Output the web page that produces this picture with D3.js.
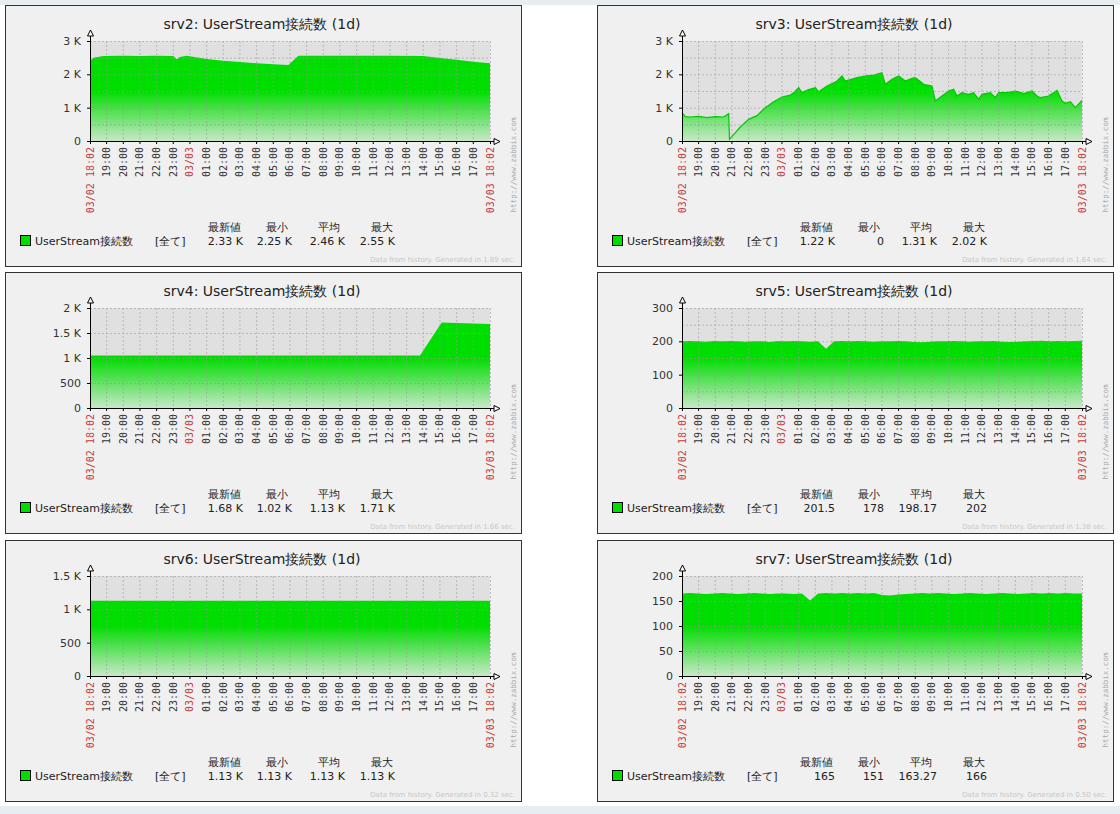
<!DOCTYPE html>
<html><head><meta charset="utf-8">
<script src="https://cdn.jsdelivr.net/npm/d3@7"></script>
<style>
body{margin:0;background:#fff;}
svg{display:block;}
</style></head><body>
<svg id="page" width="1120" height="814"></svg>
<script>
// hours since 03/02 18:02, values
const srv2T = [0,0.2,0.8,2,3,4,5,5.2,5.4,5.8,7,8,9,10,11,11.9,12.5,14,16,18,20,21,22,23,24];
const srv2V = [2400,2500,2550,2560,2550,2560,2550,2450,2520,2560,2460,2410,2370,2330,2300,2280,2560,2560,2560,2560,2550,2490,2440,2380,2330];

const srv3T = [0,0.2,0.5,1,1.5,2,2.5,2.8,2.85,3.5,4,4.5,5,5.5,6,6.5,6.7,7,7.2,7.6,8,8.2,8.7,9,9.3,9.6,9.8,10.5,11,11.5,12,12.2,12.6,13,13.4,13.8,14,14.5,15,15.2,15.6,16,16.3,16.5,16.8,17.2,17.5,17.8,18,18.5,18.8,19,19.5,20,20.5,21,21.3,21.5,22,22.5,22.8,23,23.3,23.6,24];
const srv3V = [850,730,720,740,700,730,720,820,50,420,650,760,1000,1180,1320,1380,1450,1600,1450,1540,1600,1480,1650,1720,1800,1950,1800,1900,1950,1980,2050,1700,1850,1950,1800,1880,1900,1700,1650,1200,1350,1500,1550,1350,1450,1400,1450,1250,1400,1450,1300,1450,1450,1500,1420,1500,1350,1300,1350,1520,1200,1130,1180,1000,1220];

const srv4T = [0,5,10,15,19.8,21.1,22,23,24];
const srv4V = [1050,1050,1050,1050,1050,1710,1700,1690,1680];

const srv5V = [200,201,200,199,201,200,201,200,199,200,200,198,201,200,201,200,199,200,178,200,201,200,201,200,199,200,200,201,200,198,197,199,200,200,201,200,199,200,200,201,199,198,199,200,201,202,200,201,200,201,201.5];
const srv6T = [0,24];
const srv6V = [1130,1130];
const srv7V = [165,166,165,164,165,166,165,164,165,166,165,164,165,165,164,165,151,165,166,165,166,165,166,165,166,162,161,163,164,165,166,165,166,165,164,165,166,165,164,165,166,165,164,165,166,165,166,165,166,165,165];

const hourLabels = ["19:00","20:00","21:00","22:00","23:00","03/03","01:00","02:00","03:00","04:00","05:00","06:00","07:00","08:00","09:00","10:00","11:00","12:00","13:00","14:00","15:00","16:00","17:00"];
const legendHeads = ["最新値","最小","平均","最大"];

const charts = [
  {name:"srv2",x:5,y:5,T:srv2T,V:srv2V,max:3000,ticks:[0,1000,2000,3000],grid:[500,1500,2500],stats:["2.33 K","2.25 K","2.46 K","2.55 K"],gen:"1.89",line:false},
  {name:"srv3",x:597,y:5,T:srv3T,V:srv3V,max:3000,ticks:[0,1000,2000,3000],grid:[500,1500,2500],stats:["1.22 K","0","1.31 K","2.02 K"],gen:"1.64",line:true},
  {name:"srv4",x:5,y:272,T:srv4T,V:srv4V,max:2000,ticks:[0,500,1000,1500,2000],grid:[],stats:["1.68 K","1.02 K","1.13 K","1.71 K"],gen:"1.66",line:false},
  {name:"srv5",x:597,y:272,T:srv5V.map((d,i)=>i*24/(srv5V.length-1)),V:srv5V,max:300,ticks:[0,100,200,300],grid:[50,150,250],stats:["201.5","178","198.17","202"],gen:"1.38",line:false},
  {name:"srv6",x:5,y:540,T:srv6T,V:srv6V,max:1500,ticks:[0,500,1000,1500],grid:[],stats:["1.13 K","1.13 K","1.13 K","1.13 K"],gen:"0.32",line:false},
  {name:"srv7",x:597,y:540,T:srv7V.map((d,i)=>i*24/(srv7V.length-1)),V:srv7V,max:200,ticks:[0,50,100,150,200],grid:[],stats:["165","151","163.27","166"],gen:"0.50",line:false}
];

const svg = d3.select("#page");
svg.append("rect").attr("width",1120).attr("height",5).attr("fill","#e8edf2");
svg.append("rect").attr("y",806).attr("width",1120).attr("height",8).attr("fill","#e8edf2");

const fmt = v => v === 0 ? "0" : (v >= 1000 ? (v/1000) + " K" : String(v));
const W = 400, H = 100, L = 85, TOP = 36;

const defs = svg.append("defs");
const gr = defs.append("linearGradient").attr("id","grad").attr("x1",0).attr("y1",0).attr("x2",0).attr("y2",1)
  .attr("gradientUnits","objectBoundingBox");

charts.forEach((c, ci) => {
  const g = svg.append("g").attr("transform", `translate(${c.x},${c.y})`);
  g.append("rect").attr("x",0.5).attr("y",0.5).attr("width",516).attr("height",261)
    .attr("fill","#f0f0f0").attr("stroke","#333");
  g.append("text").attr("x",257).attr("y",24).attr("text-anchor","middle")
    .attr("font-family","DejaVu Sans").attr("font-size",14).attr("fill","#222")
    .text(`${c.name}: UserStream接続数 (1d)`);

  const x = d3.scaleLinear().domain([0,24]).range([L, L+W]);
  const y = d3.scaleLinear().domain([0,c.max]).range([TOP+H, TOP]);

  g.append("rect").attr("x",L).attr("y",TOP).attr("width",W).attr("height",H).attr("fill","#e0e0e0");

  const gid = "grad" + ci;
  const lg = defs.append("linearGradient").attr("id",gid).attr("gradientUnits","userSpaceOnUse")
    .attr("x1",0).attr("x2",0).attr("y1",c.y+TOP).attr("y2",c.y+TOP+H);
  lg.append("stop").attr("offset",0).attr("stop-color","#00dd00");
  lg.append("stop").attr("offset",0.5).attr("stop-color","#00dd00");
  lg.append("stop").attr("offset",1).attr("stop-color","#c8e8c8");

  const data = c.T.map((t,i)=>({t, v:c.V[i]}));
  g.append("path").datum(data)
    .attr("d", d3.area().x(d=>x(d.t)).y0(y(0)).y1(d=>y(d.v)))
    .attr("fill", `url(#${gid})`).attr("transform",`translate(0,0)`);
  // gradient uses absolute coords; path is inside translated g, so fix userSpace by using objectBoundingBox-free trick
  lg.attr("y1",TOP).attr("y2",TOP+H);
  if (c.line) {
    g.append("path").datum(data)
      .attr("d", d3.line().x(d=>x(d.t)).y(d=>y(d.v)))
      .attr("fill","none").attr("stroke","#00c800").attr("stroke-width",1.2);
  }

  // grid
  const hours = d3.range(1,24).map(h => h - 2/60);
  const grid = g.append("g").attr("stroke","#999").attr("stroke-dasharray","2,2").attr("stroke-width",0.8).attr("opacity",0.7);
  hours.concat([24]).forEach(h => grid.append("line").attr("x1",x(h)+0.5).attr("x2",x(h)+0.5).attr("y1",TOP).attr("y2",TOP+H));
  c.ticks.concat(c.grid).filter(v=>v>0).forEach(v => grid.append("line").attr("x1",L).attr("x2",L+W).attr("y1",y(v)+0.5).attr("y2",y(v)+0.5));

  // axes
  g.append("line").attr("x1",L+0.5).attr("x2",L+0.5).attr("y1",TOP-8).attr("y2",TOP+H+3).attr("stroke","#000");
  g.append("line").attr("x1",L-3).attr("x2",L+W+6).attr("y1",TOP+H+0.5).attr("y2",TOP+H+0.5).attr("stroke","#000");
  g.append("path").attr("d",`M${L+0.5},${TOP-11}L${L-2.5},${TOP-5}L${L+3.5},${TOP-5}Z`).attr("fill","#fff").attr("stroke","#000");
  g.append("path").attr("d",`M${L+W+10},${TOP+H+0.5}L${L+W+4},${TOP+H-2.5}L${L+W+4},${TOP+H+3.5}Z`).attr("fill","#fff").attr("stroke","#000");

  const ya = g.append("g").attr("transform",`translate(${L},0)`)
    .call(d3.axisLeft(y).tickValues(c.ticks).tickFormat(fmt).tickSize(3));
  ya.select(".domain").remove();
  ya.selectAll("text").attr("font-family","DejaVu Sans").attr("font-size",11).attr("fill","#333").attr("dx",-3);

  const xa = g.append("g").attr("transform",`translate(0,${TOP+H})`)
    .call(d3.axisBottom(x).tickValues([0].concat(hours,[24])).tickSize(3)
      .tickFormat((d,i)=> i===0 ? "03/02 18:02" : (i===24 ? "03/03 18:02" : hourLabels[i-1])));
  xa.select(".domain").remove();
  xa.selectAll("text").attr("font-family","DejaVu Sans Mono").attr("font-size",10)
    .attr("transform","rotate(-90)").attr("text-anchor","end").attr("x",-6).attr("y",0).attr("dy","0.35em")
    .attr("fill",(d,i)=> (i===0||i===24||i===6) ? "#c04040" : "#333");

  // zabbix mark
  g.append("text").attr("transform","translate(511,160) rotate(-90)").attr("text-anchor","middle")
    .attr("font-family","DejaVu Sans Mono").attr("font-size",7.5).attr("fill","#aaa").text("http://www.zabbix.com");

  // legend
  g.append("rect").attr("x",15.5).attr("y",230.5).attr("width",10).attr("height",10).attr("fill","#00dd00").attr("stroke","#000");
  const lt = {"font-family":"DejaVu Sans","font-size":11,"fill":"#222"};
  const t1 = g.append("text").attr("x",30).attr("y",240).text("UserStream接続数");
  const t2 = g.append("text").attr("x",150).attr("y",240).text("[全て]");
  [t1,t2].forEach(t=>Object.entries(lt).forEach(([k,v])=>t.attr(k,v)));
  const hx = [219,272,324,377], vx = [238,287,340,390];
  legendHeads.forEach((h,i)=>{
    const t = g.append("text").attr("x",hx[i]).attr("y",226).attr("text-anchor","middle").text(h);
    Object.entries(lt).forEach(([k,v])=>t.attr(k,v));
    const s = g.append("text").attr("x",vx[i]).attr("y",240).attr("text-anchor","end").text(c.stats[i]);
    Object.entries(lt).forEach(([k,v])=>s.attr(k,v));
  });
  g.append("text").attr("x",510).attr("y",257).attr("text-anchor","end")
    .attr("font-family","DejaVu Sans").attr("font-size",7).attr("fill","#c8c8c8")
    .text(`Data from history. Generated in ${c.gen} sec.`);
});
gr.remove();
</script>
</body></html>
